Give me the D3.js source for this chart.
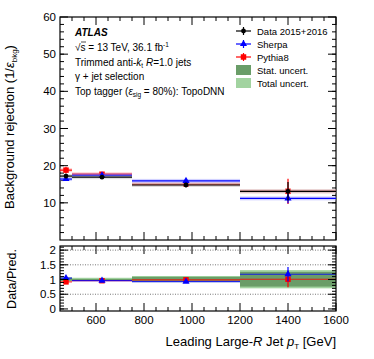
<!DOCTYPE html>
<html>
<head>
<meta charset="utf-8">
<script src="https://cdn.jsdelivr.net/npm/d3@7"></script>
<style>
  body { margin: 0; background: #fff; }
  svg { display: block; font-family: "Liberation Sans", Arial, sans-serif; }
</style>
</head>
<body>
<div id="chart"></div>
<script>
// ATLAS-style rejection plot with ratio panel

const binLo = [450, 500, 750, 1200];
const binHi = [500, 750, 1200, 1600];
const binCenter = [475, 625, 975, 1400];

const dataVal = [17.2, 16.9, 14.8, 13.1];
const dataErr = [0.6, 0.4, 0.6, 2.5];
const sherpaVal = [16.4, 17.4, 15.9, 11.2];
const sherpaErr = [0.5, 0.4, 0.5, 1.3];
const pythiaVal = [18.8, 17.7, 15.0, 13.1];
const pythiaErr = [0.9, 0.4, 0.5, 3.4];

const ratioSherpa = [1.05, 0.96, 0.93, 1.18];
const ratioSherpaErr = [0.05, 0.03, 0.04, 0.25];
const ratioPythia = [0.92, 0.96, 0.99, 1.01];
const ratioPythiaErr = [0.05, 0.03, 0.04, 0.27];

const statLo = [0.96, 0.97, 0.94, 0.76];
const statHi = [1.05, 1.02, 1.09, 1.26];
const totLo = [0.94, 0.96, 0.91, 0.70];
const totHi = [1.08, 1.06, 1.12, 1.32];

const topTicks = [10, 20, 30, 40, 50, 60];
const ratioTicks = [0, 0.5, 1, 1.5, 2];
const xTicks = [600, 800, 1000, 1200, 1400, 1600];

const W = 374, H = 359;
const left = 60, right = 336;
const BLACK = '#000', BLUE = '#0000ff', RED = '#ff0000';
const STAT = '#6a9d68', TOTAL = '#a2d3a0';

const svg = d3.select('#chart').append('svg')
    .attr('width', W).attr('height', H);

const x = d3.scaleLinear().domain([450, 1600]).range([left, right]);
const yTop = d3.scaleLinear().domain([0, 60]).range([240, 17]);
const yRat = d3.scaleLinear().domain([-0.07, 2.14]).range([311, 246]);

const bins = binLo.map((lo, i) => ({ i, lo, hi: binHi[i], c: binCenter[i] }));

// ---------- frame + ticks helper
function drawFrame(y, top, bottom, majorY, minorY) {
    const g = svg.append('g');
    // y ticks left and right (inward)
    minorY.forEach(v => {
        const yy = y(v);
        g.append('line').attr('x1', left).attr('x2', left + 4).attr('y1', yy).attr('y2', yy);
        g.append('line').attr('x1', right).attr('x2', right - 4).attr('y1', yy).attr('y2', yy);
    });
    majorY.forEach(v => {
        const yy = y(v);
        g.append('line').attr('x1', left).attr('x2', left + 8).attr('y1', yy).attr('y2', yy);
        g.append('line').attr('x1', right).attr('x2', right - 8).attr('y1', yy).attr('y2', yy);
    });
    // x ticks bottom and top
    d3.range(500, 1601, 50).forEach(v => {
        const len = v % 200 === 0 ? 8 : 4;
        g.append('line').attr('x1', x(v)).attr('x2', x(v)).attr('y1', bottom).attr('y2', bottom - len);
        g.append('line').attr('x1', x(v)).attr('x2', x(v)).attr('y1', top).attr('y2', top + len);
    });
    g.selectAll('line').attr('stroke', BLACK).attr('stroke-width', 1);
    g.append('rect').attr('x', left).attr('y', top)
        .attr('width', right - left).attr('height', bottom - top)
        .attr('fill', 'none').attr('stroke', BLACK).attr('stroke-width', 1.2);
    return g;
}

// ---------- top panel
drawFrame(yTop, 17, 240, topTicks, d3.range(2, 60, 2));

svg.append('g').selectAll('text').data(topTicks).join('text')
    .attr('x', 56).attr('y', d => yTop(d) + 4)
    .attr('text-anchor', 'end').attr('font-size', 11.5).text(d => d);

function drawSeries(vals, errs, color, halo, shape, size) {
    const g = svg.append('g');
    g.selectAll('.halo').data(bins).join('rect')
        .attr('x', d => x(d.lo)).attr('width', d => x(d.hi) - x(d.lo))
        .attr('y', d => yTop(vals[d.i]) - 2).attr('height', 4)
        .attr('fill', halo).attr('opacity', 0.45);
    g.selectAll('.h').data(bins).join('line')
        .attr('x1', d => x(d.lo)).attr('x2', d => x(d.hi))
        .attr('y1', d => yTop(vals[d.i])).attr('y2', d => yTop(vals[d.i]))
        .attr('stroke', color).attr('stroke-width', 1.2);
    g.selectAll('.v').data(bins).join('line')
        .attr('x1', d => x(d.c)).attr('x2', d => x(d.c))
        .attr('y1', d => yTop(vals[d.i] - errs[d.i])).attr('y2', d => yTop(vals[d.i] + errs[d.i]))
        .attr('stroke', color).attr('stroke-width', 1.2);
    g.selectAll('.m').data(bins).join('path')
        .attr('transform', d => `translate(${x(d.c)},${yTop(vals[d.i])})`)
        .attr('d', d3.symbol().type(shape).size(size)())
        .attr('fill', color);
}
drawSeries(pythiaVal, pythiaErr, RED, '#ff9a9a', d3.symbolSquare, 30);
drawSeries(sherpaVal, sherpaErr, BLUE, '#9a9aff', d3.symbolTriangle, 22);
drawSeries(dataVal, dataErr, BLACK, '#bbbbbb', d3.symbolCircle, 18);

// ---------- labels in top panel
const info = svg.append('g').attr('font-size', 10).attr('fill', BLACK);
info.append('text').attr('x', 75).attr('y', 36)
    .attr('font-weight', 'bold').attr('font-style', 'italic').attr('font-size', 10).text('ATLAS');
const t1 = info.append('text').attr('x', 75).attr('y', 51);
t1.append('tspan').text('\u221As = 13 TeV, 36.1 fb');
t1.append('tspan').attr('font-size', 6.5).attr('dy', -4).text('-1');
// overline for sqrt
info.append('line').attr('x1', 81).attr('x2', 86).attr('y1', 42).attr('y2', 42).attr('stroke', BLACK).attr('stroke-width', 0.7);
const t2 = info.append('text').attr('x', 75).attr('y', 65.5);
t2.append('tspan').text('Trimmed anti-');
t2.append('tspan').attr('font-style', 'italic').text('k');
t2.append('tspan').attr('font-size', 6.5).attr('dy', 2).text('t');
t2.append('tspan').attr('dy', -2).text(' ');
t2.append('tspan').attr('font-style', 'italic').text('R');
t2.append('tspan').text('=1.0 jets');
info.append('text').attr('x', 75).attr('y', 80).text('\u03B3 + jet selection');
const t4 = info.append('text').attr('x', 75).attr('y', 94.5);
t4.append('tspan').text('Top tagger (');
t4.append('tspan').attr('font-style', 'italic').text('\u03B5');
t4.append('tspan').attr('font-size', 6.5).attr('dy', 2).text('sig');
t4.append('tspan').attr('dy', -2).text(' = 80%): TopoDNN');

// legend
const legendItems = [
    { label: 'Data 2015+2016', color: BLACK, shape: d3.symbolCircle, size: 18 },
    { label: 'Sherpa', color: BLUE, shape: d3.symbolTriangle, size: 22 },
    { label: 'Pythia8', color: RED, shape: d3.symbolSquare, size: 30 },
    { label: 'Stat. uncert.', fill: STAT },
    { label: 'Total uncert.', fill: TOTAL }
];
const leg = svg.append('g').attr('font-size', 9.5);
legendItems.forEach((d, i) => {
    const yy = 31 + i * 13;
    if (d.fill) {
        leg.append('rect').attr('x', 236).attr('y', yy - 5).attr('width', 15).attr('height', 10).attr('fill', d.fill);
    } else {
        leg.append('line').attr('x1', 236).attr('x2', 251).attr('y1', yy).attr('y2', yy)
            .attr('stroke', d.color).attr('stroke-width', 1.2);
        leg.append('line').attr('x1', 243.5).attr('x2', 243.5).attr('y1', yy - 4).attr('y2', yy + 4)
            .attr('stroke', d.color).attr('stroke-width', 1.2);
        leg.append('path').attr('transform', `translate(243.5,${yy})`)
            .attr('d', d3.symbol().type(d.shape).size(d.size)()).attr('fill', d.color);
    }
    leg.append('text').attr('x', 257).attr('y', yy + 3.5).text(d.label);
});

// ---------- ratio panel
const rg = svg.append('g');
// grid
rg.selectAll('.grid').data([0.5, 1, 1.5, 2]).join('line')
    .attr('x1', left).attr('x2', right)
    .attr('y1', d => yRat(d)).attr('y2', d => yRat(d))
    .attr('stroke', '#777').attr('stroke-width', 1).attr('stroke-dasharray', '1,1.5');
// bands
rg.selectAll('.tot').data(bins).join('rect')
    .attr('x', d => x(d.lo)).attr('width', d => x(d.hi) - x(d.lo))
    .attr('y', d => yRat(totHi[d.i])).attr('height', d => yRat(totLo[d.i]) - yRat(totHi[d.i]))
    .attr('fill', TOTAL);
rg.selectAll('.stat').data(bins).join('rect')
    .attr('x', d => x(d.lo)).attr('width', d => x(d.hi) - x(d.lo))
    .attr('y', d => yRat(statHi[d.i])).attr('height', d => yRat(statLo[d.i]) - yRat(statHi[d.i]))
    .attr('fill', STAT);

function drawRatio(vals, errs, color, shape, size) {
    const g = svg.append('g');
    g.selectAll('.h').data(bins).join('line')
        .attr('x1', d => x(d.lo)).attr('x2', d => x(d.hi))
        .attr('y1', d => yRat(vals[d.i])).attr('y2', d => yRat(vals[d.i]))
        .attr('stroke', color).attr('stroke-width', 1.2).attr('opacity', 0.8);
    g.selectAll('.v').data(bins).join('line')
        .attr('x1', d => x(d.c)).attr('x2', d => x(d.c))
        .attr('y1', d => yRat(vals[d.i] - errs[d.i])).attr('y2', d => yRat(vals[d.i] + errs[d.i]))
        .attr('stroke', color).attr('stroke-width', 1.2);
    g.selectAll('.m').data(bins).join('path')
        .attr('transform', d => `translate(${x(d.c)},${yRat(vals[d.i])})`)
        .attr('d', d3.symbol().type(shape).size(size)())
        .attr('fill', color);
}
drawRatio(ratioPythia, ratioPythiaErr, RED, d3.symbolSquare, 30);
drawRatio(ratioSherpa, ratioSherpaErr, BLUE, d3.symbolTriangle, 22);

drawFrame(yRat, 246, 311, ratioTicks, d3.range(0, 2.11, 0.1).map(v => +v.toFixed(1)));

svg.append('g').selectAll('text').data(ratioTicks).join('text')
    .attr('x', 56).attr('y', d => yRat(d) + 4)
    .attr('text-anchor', 'end').attr('font-size', 11.5).text(d => d);

svg.append('g').selectAll('text').data(xTicks).join('text')
    .attr('x', d => x(d)).attr('y', 324)
    .attr('text-anchor', 'middle').attr('font-size', 11.5).text(d => d);

// axis titles
const xt = svg.append('text').attr('x', 336).attr('y', 346)
    .attr('text-anchor', 'end').attr('font-size', 13);
xt.append('tspan').text('Leading Large-');
xt.append('tspan').attr('font-style', 'italic').text('R');
xt.append('tspan').text(' Jet ');
xt.append('tspan').attr('font-style', 'italic').text('p');
xt.append('tspan').attr('font-size', 8).attr('dy', 3).text('T');
xt.append('tspan').attr('dy', -3).text(' [GeV]');

const yt = svg.append('text').attr('transform', 'translate(14,127) rotate(-90)')
    .attr('text-anchor', 'middle').attr('font-size', 13);
yt.append('tspan').text('Background rejection (1/');
yt.append('tspan').attr('font-style', 'italic').text('\u03B5');
yt.append('tspan').attr('font-size', 8).attr('dy', 3).text('bkg');
yt.append('tspan').attr('dy', -3).text(')');

svg.append('text').attr('transform', 'translate(16,279) rotate(-90)')
    .attr('text-anchor', 'middle').attr('font-size', 12.5).text('Data/Pred.');
</script>
</body>
</html>
